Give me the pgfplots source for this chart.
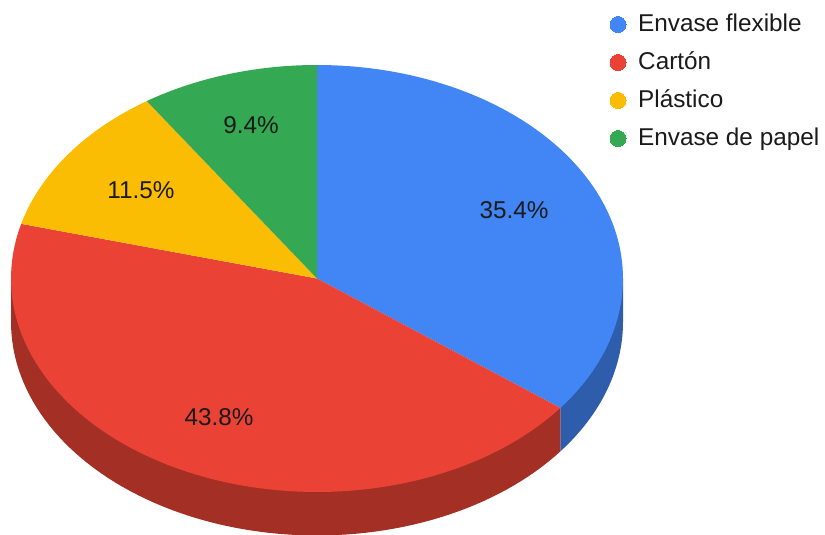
\documentclass[border=0pt]{standalone}
\usepackage{pgfplots}
\pgfplotsset{compat=1.18}
\usepackage{fontspec}
\setmainfont{Liberation Sans}
\definecolor{cBlue}{HTML}{4285F4}
\definecolor{cRed}{HTML}{EA4335}
\definecolor{cYellow}{HTML}{FBBC04}
\definecolor{cGreen}{HTML}{34A853}
\definecolor{cBlueDark}{HTML}{2E5DAB}
\definecolor{cRedDark}{HTML}{A42F25}
\definecolor{cInk}{HTML}{1A1A1A}

% Slice shares in percent
\def\valA{35.4}\def\valB{43.8}\def\valC{11.5}\def\valD{9.4}
\pgfmathsetmacro{\total}{\valA+\valB+\valC+\valD}
\pgfmathsetmacro{\angA}{360*\valA/\total}
\pgfmathsetmacro{\angB}{\angA+360*\valB/\total}
\pgfmathsetmacro{\angC}{\angB+360*\valC/\total}

% Pie geometry in axis units
\def\cx{317}\def\cy{256.5}\def\rx{306}\def\ry{213.5}\def\depth{43.5}

% Angles run clockwise from twelve o'clock: #1 colour, #2 start, #3 end
\newcommand{\topslice}[3]{%
  \addplot[fill=#1,draw=none,domain=#2:#3,samples=80,variable=\t,forget plot]
    ({\cx+\rx*sin(\t)},{\cy+\ry*cos(\t)}) -- (axis cs:\cx,\cy) -- cycle;}
\newcommand{\sideslice}[3]{%
  \addplot[fill=#1,draw=none,domain=#2:#3,samples=80,variable=\t,forget plot]
    ({\cx+\rx*sin(\t)},{\cy-\depth+\ry*cos(\t)})
    -- (axis cs:{\cx+\rx*sin(#3)},{\cy+\ry*cos(#3)})
    -- (axis cs:{\cx+\rx*sin(#2)},{\cy+\ry*cos(#2)}) -- cycle;}
\newcommand{\legenddot}[2]{%
  \addplot[only marks,mark=*,mark size=8pt,mark options={draw=#1,line width=0pt,fill=#1},forget plot]
    coordinates {(618,#2)};}

\tikzset{lab/.style={text=cInk,font=\fontsize{24.3}{28}\selectfont,inner sep=0pt}}

\begin{document}
\begin{tikzpicture}
\useasboundingbox (0,0) rectangle (825pt,535pt);
\begin{axis}[
  at={(0,0)}, anchor=south west,
  scale only axis, width=825pt, height=535pt,
  xmin=0, xmax=825, ymin=0, ymax=535,
  axis lines=none, clip=true,
]
% Rim of the disc, visible along the lower half only
\sideslice{cBlueDark}{90}{\angA}
\sideslice{cRedDark}{\angA}{270}
% Top face
\topslice{cBlue}{0}{\angA}
\topslice{cRed}{\angA}{\angB}
\topslice{cYellow}{\angB}{\angC}
\topslice{cGreen}{\angC}{360}
% Value labels
\node[lab,anchor=base] at (axis cs:514,316) {35.4\%};
\node[lab,anchor=base] at (axis cs:219,109) {43.8\%};
\node[lab,anchor=base] at (axis cs:141,336) {11.5\%};
\node[lab,anchor=base] at (axis cs:251,401) {9.4\%};
% Legend
\legenddot{cBlue}{510.5}
\legenddot{cRed}{472.5}
\legenddot{cYellow}{434.5}
\legenddot{cGreen}{396.5}
\node[lab,anchor=base west] at (axis cs:638,503) {Envase flexible};
\node[lab,anchor=base west] at (axis cs:638,465) {Cartón};
\node[lab,anchor=base west] at (axis cs:638,427) {Plástico};
\node[lab,anchor=base west] at (axis cs:638,389) {Envase de papel};
\end{axis}
\end{tikzpicture}
\end{document}
